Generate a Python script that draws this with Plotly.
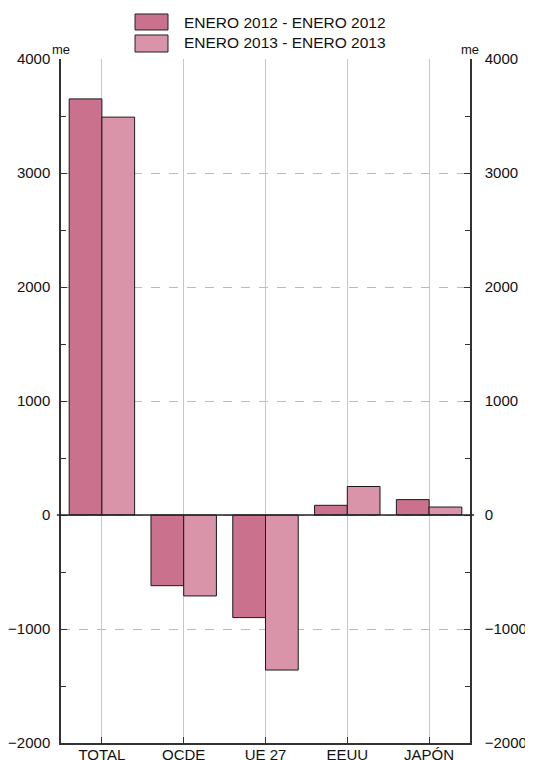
import plotly.graph_objects as go

categories = ["TOTAL", "OCDE", "UE 27", "EEUU", "JAPÓN"]
series_names = ["ENERO 2012 - ENERO 2012", "ENERO 2013 - ENERO 2013"]
values_2012 = [3650, -620, -900, 85, 135]
values_2013 = [3490, -710, -1360, 250, 70]
colors = ["#C9718D", "#D994AA"]
y_ticks = [-2000, -1000, 0, 1000, 2000, 3000, 4000]

FONT = "Liberation Sans, Arial, Helvetica, sans-serif"

fig = go.Figure()
for name, vals, col in zip(series_names, [values_2012, values_2013], colors):
    fig.add_trace(go.Bar(
        x=categories, y=vals, name=name,
        marker=dict(color=col, line=dict(color="#1a1a1a", width=1)),
        showlegend=False,
    ))
# invisible trace for the right axis
fig.add_trace(go.Scatter(x=categories, y=values_2012, yaxis="y2",
                         mode="markers", marker=dict(opacity=0),
                         showlegend=False, hoverinfo="skip"))

def yaxis_style(standoff):
    return dict(
        range=[-2000, 4000], tickvals=y_ticks, ticks="inside", ticklen=6,
        tickcolor="#333", linecolor="#333", linewidth=1.5, showline=True,
        tickfont=dict(family=FONT, size=15, color="#111"),
        minor=dict(dtick=500, tick0=0, ticks="inside", ticklen=5, tickcolor="#333", showgrid=False),
        zeroline=False, automargin=False, ticklabelstandoff=standoff,
    )

# the page body has an 8px default margin, so the figure is sized to compensate
fig.update_layout(
    width=525, height=752,
    margin=dict(l=53, r=63, t=51, b=17),
    plot_bgcolor="white", paper_bgcolor="white",
    barmode="group", bargap=0.2, bargroupgap=0,
    font=dict(family=FONT, size=15, color="#111"),
    xaxis=dict(
        showgrid=True, gridcolor="#c8c8c8", gridwidth=1,
        ticks="inside", ticklen=6, tickcolor="#333",
        showline=True, linecolor="#333", linewidth=1.5,
        tickfont=dict(family=FONT, size=15, color="#111"),
        automargin=False, ticklabelstandoff=-3,
    ),
    yaxis=dict(**yaxis_style(6), showgrid=True, gridcolor="#bbbbbb",
               griddash="dash", gridwidth=1, side="left"),
    yaxis2=dict(**yaxis_style(10), overlaying="y", side="right", showgrid=False),
)

# zero line
fig.add_shape(type="line", xref="paper", yref="y", x0=-0.01, x1=1.01, y0=0, y1=0,
              line=dict(color="#222", width=1.5), layer="above")

# legend drawn manually
leg_rows = [(1.0424, 1.0658, 1.054), (1.0102, 1.0351, 1.0234)]
for (y0, y1, yt), name, col in zip(leg_rows, series_names, colors):
    fig.add_shape(type="rect", xref="paper", yref="paper", x0=0.181, x1=0.2616,
                  y0=y0, y1=y1, fillcolor=col, line=dict(color="#222", width=1))
    fig.add_annotation(xref="paper", yref="paper", x=0.295, y=yt, text=name,
                       showarrow=False, xanchor="left", yanchor="middle",
                       font=dict(family=FONT, size=15.5, color="#111"))

for xp in [0.0, 1.0]:
    fig.add_annotation(xref="paper", yref="paper", x=xp, y=1.0, text="me",
                       showarrow=False, xanchor="center", yanchor="bottom",
                       yshift=0, font=dict(family=FONT, size=13, color="#111"))

fig.write_html("out.html")
